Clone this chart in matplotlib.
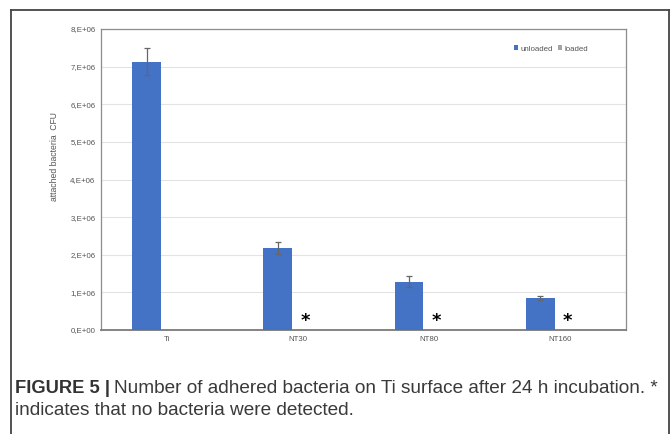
import matplotlib
matplotlib.use("Agg")
import matplotlib.pyplot as plt
import numpy as np

categories = ["Ti", "NT30", "NT80", "NT160"]
unloaded = [7.13e6, 2.18e6, 1.28e6, 0.85e6]
unloaded_err = [0.36e6, 0.17e6, 0.15e6, 0.05e6]
loaded = [0, 0, 0, 0]
star_cats = ["NT30", "NT80", "NT160"]
yticks = [0, 1e6, 2e6, 3e6, 4e6, 5e6, 6e6, 7e6, 8e6]
ytick_labels = ["0,E+00", "1,E+06", "2,E+06", "3,E+06", "4,E+06",
                "5,E+06", "6,E+06", "7,E+06", "8,E+06"]

W, H = 670, 434
fig = plt.figure(figsize=(W / 100, H / 100), dpi=100)
plt.rcParams["font.family"] = ["Liberation Sans", "DejaVu Sans"]

# outer frame of the figure panel (bottom edge runs off the image)
fig.add_artist(plt.Line2D([11 / W, 11 / W], [0, 1 - 10 / H], color="#444", lw=1.3))
fig.add_artist(plt.Line2D([11 / W, 669 / W], [1 - 10 / H, 1 - 10 / H], color="#444", lw=1.3))
fig.add_artist(plt.Line2D([669 / W, 669 / W], [0, 1 - 10 / H], color="#444", lw=1.3))

ax = fig.add_axes([101 / W, (H - 330) / H, 525 / W, 301 / H])
x = np.arange(len(categories))
w = 0.22
ax.bar(x - 0.153, unloaded, w, yerr=unloaded_err, color="#4472C4", label="unloaded",
       error_kw=dict(ecolor="#666", elinewidth=0.9, capsize=2.2, capthick=0.9), zorder=3)
ax.bar(x + 0.153, loaded, w, color="#A5A5A5", label="loaded", zorder=3)
for c in star_cats:
    i = categories.index(c)
    ax.text(i + 0.055, 0.25e6, "*", ha="center", va="center", fontsize=13,
            fontweight="bold", color="black", family="DejaVu Sans", zorder=4)

ax.set_xlim(-0.5, 3.5)
ax.set_ylim(0, 8e6)
ax.set_yticks(yticks)
ax.set_yticklabels(ytick_labels)
ax.set_xticks(x)
ax.set_xticklabels(categories)
ax.tick_params(length=0, labelsize=5.7, labelcolor="#555555", pad=4)
ax.grid(axis="y", color="#e3e3e3", lw=0.8, zorder=0)
for s in ["left", "top", "right"]:
    ax.spines[s].set_color("#8c8c8c")
    ax.spines[s].set_linewidth(0.9)
ax.spines["bottom"].set_color("#7a7a7a")
ax.spines["bottom"].set_linewidth(1.3)
ax.set_ylabel("attached bacteria  CFU", fontsize=6.2, color="#555555")
ax.yaxis.set_label_coords(-0.08, 0.575)

leg = ax.legend(ncol=2, frameon=False, fontsize=5.7, handlelength=0.55, handleheight=0.55,
                handletextpad=0.3, columnspacing=0.6, loc="center",
                bbox_to_anchor=(551 / W, 1 - 49 / H), bbox_transform=fig.transFigure)
for t in leg.get_texts():
    t.set_color("#555555")

# caption
fs = 13.7
t1 = fig.text(15 / W, 1 - 393 / H, "FIGURE 5 |", fontsize=fs - 0.5, fontweight="bold",
              color="#333", va="baseline")
fig.canvas.draw()
bb = t1.get_window_extent()
fig.text((bb.x1 + 4) / W, 1 - 393 / H,
         "Number of adhered bacteria on Ti surface after 24 h incubation. *",
         fontsize=fs, color="#3a3a3a", va="baseline")
fig.text(15 / W, 1 - 415 / H, "indicates that no bacteria were detected.",
         fontsize=fs, color="#3a3a3a", va="baseline")

fig.savefig("out.png", dpi=100)
